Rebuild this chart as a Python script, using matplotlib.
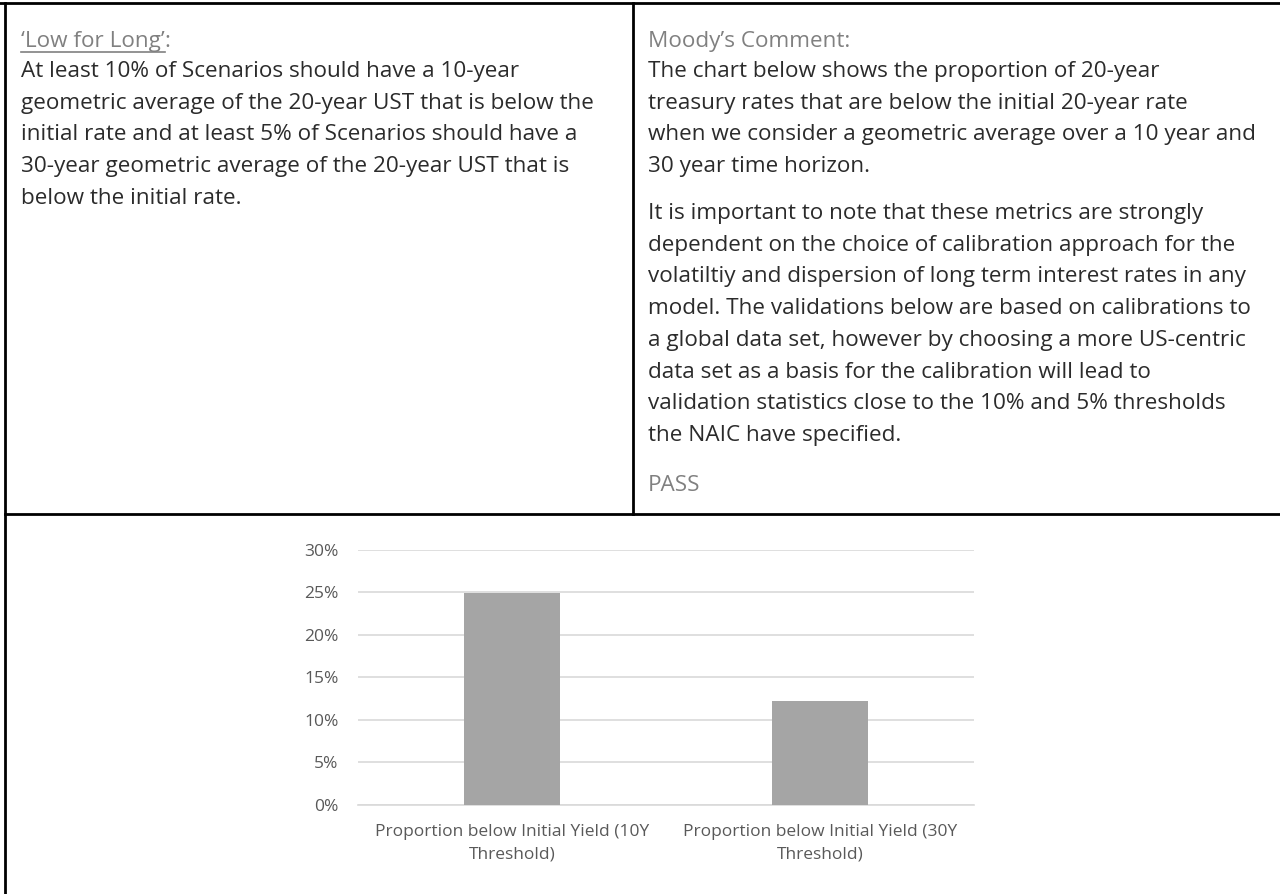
import matplotlib
matplotlib.use("Agg")
import matplotlib.pyplot as plt
from matplotlib.lines import Line2D
from matplotlib.ticker import PercentFormatter

# ---- data -------------------------------------------------------------
categories = ["Proportion below Initial Yield (10Y\nThreshold)",
              "Proportion below Initial Yield (30Y\nThreshold)"]
proportions = [0.249, 0.122]
y_ticks = [0, 0.05, 0.10, 0.15, 0.20, 0.25, 0.30]

left_header = "\u2018Low for Long\u2019"
left_lines = [
    "At least 10% of Scenarios should have a 10-year",
    "geometric average of the 20-year UST that is below the",
    "initial rate and at least 5% of Scenarios should have a",
    "30-year geometric average of the 20-year UST that is",
    "below the initial rate.",
]
right_header = "Moody\u2019s Comment:"
right_para1 = [
    "The chart below shows the proportion of 20-year",
    "treasury rates that are below the initial 20-year rate",
    "when we consider a geometric average over a 10 year and",
    "30 year time horizon.",
]
right_para2 = [
    "It is important to note that these metrics are strongly",
    "dependent on the choice of calibration approach for the",
    "volatiltiy and dispersion of long term interest rates in any",
    "model. The validations below are based on calibrations to",
    "a global data set, however by choosing a more US-centric",
    "data set as a basis for the calibration will lead to",
    "validation statistics close to the 10% and 5% thresholds",
    "the NAIC have specified.",
]
verdict = "PASS"

# ---- figure -----------------------------------------------------------
W, H = 1280, 894
fig = plt.figure(figsize=(W / 100, H / 100), dpi=100)
fig.patch.set_facecolor("white")

FONT = "Open Sans"
TXT = "#2b2b2b"
HDR = "#808080"
BODY_SIZE = 16.2


def fx(x):
    return x / W


def fy(y):
    return 1 - y / H


def line(x0, y0, x1, y1):
    fig.add_artist(Line2D([fx(x0), fx(x1)], [fy(y0), fy(y1)],
                          transform=fig.transFigure, color="black", lw=2))


# table borders
line(0, 3, W, 3)
line(5, 3, 5, H)
line(5, 514, W, 514)
line(633, 3, 633, 514)

# left cell
lx = 21
pitch = 31.7
hdr = fig.text(fx(lx), fy(47), left_header, fontsize=BODY_SIZE, family=FONT,
               color=HDR, va="baseline")
fig.canvas.draw()
bb = hdr.get_window_extent()
fig.text(bb.x1 / W, fy(47), ":", fontsize=BODY_SIZE, family=FONT,
         color=HDR, va="baseline")
fig.add_artist(Line2D([bb.x0 / W, bb.x1 / W], [fy(52), fy(52)],
                      transform=fig.transFigure, color=HDR, lw=1.2))
for i, s in enumerate(left_lines):
    fig.text(fx(lx), fy(77 + i * pitch), s, fontsize=BODY_SIZE, family=FONT,
             color=TXT, va="baseline")

# right cell
rx = 648
fig.text(fx(rx), fy(47), right_header, fontsize=BODY_SIZE, family=FONT,
         color=HDR, va="baseline")
for i, s in enumerate(right_para1):
    fig.text(fx(rx), fy(77 + i * pitch), s, fontsize=BODY_SIZE, family=FONT,
             color=TXT, va="baseline")
for i, s in enumerate(right_para2):
    fig.text(fx(rx), fy(219 + i * pitch), s, fontsize=BODY_SIZE, family=FONT,
             color=TXT, va="baseline")
fig.text(fx(rx), fy(491), verdict, fontsize=BODY_SIZE, family=FONT,
         color=HDR, va="baseline")

# chart
ax = fig.add_axes([fx(358), fy(804.7), fx(974) - fx(358), (804.7 - 550) / H])
x = list(range(len(categories)))
ax.bar(x, proportions, width=0.31, color="#a5a5a5", zorder=3)
ax.set_xlim(-0.5, 1.5)
ax.set_ylim(0, 0.30)
ax.set_yticks(y_ticks)
ax.yaxis.set_major_formatter(PercentFormatter(1.0, decimals=0))
ax.set_xticks(x)
ax.set_xticklabels(categories, fontsize=12.5, family=FONT, color="#595959",
                   linespacing=1.5)
for lab in ax.get_yticklabels():
    lab.set_fontsize(12.5)
    lab.set_family(FONT)
    lab.set_color("#595959")
ax.grid(axis="y", color="#d9d9d9", lw=1.2, zorder=0)
ax.tick_params(length=0, axis="y", pad=14)
ax.tick_params(length=0, axis="x", pad=14)
for sp in ["top", "right", "left"]:
    ax.spines[sp].set_visible(False)
ax.spines["bottom"].set_color("#d9d9d9")
ax.spines["bottom"].set_linewidth(1.2)

fig.savefig("out.png", dpi=100, facecolor="white")
